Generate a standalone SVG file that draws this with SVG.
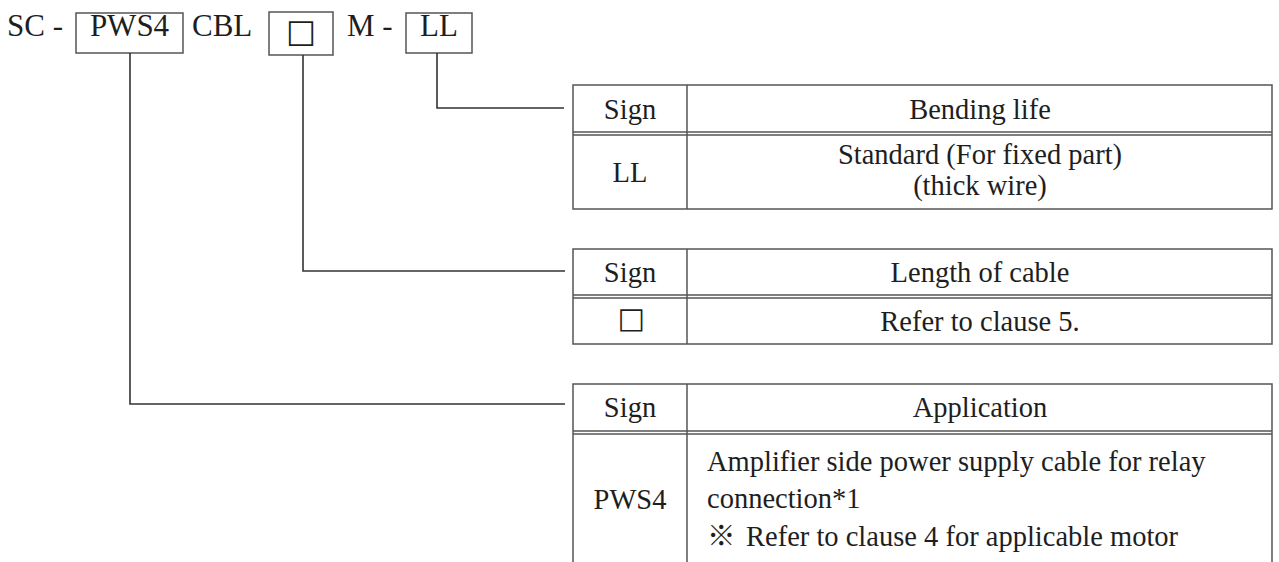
<svg xmlns="http://www.w3.org/2000/svg" width="1279" height="562" viewBox="0 0 1279 562">
<style>
.t{font-family:"Liberation Serif","Times New Roman",serif;fill:#1e1e1e}
.h{font-size:31px}
.c{font-size:28.5px}
.m{text-anchor:middle}
.box{fill:none;stroke:#555;stroke-width:1.5}
.ln{fill:none;stroke:#333;stroke-width:1.6}
.sq{font-family:"DejaVu Sans",sans-serif;fill:#1e1e1e}
</style>
<rect width="1279" height="562" fill="#fff"/>
<g id="code">
<text class="t h" x="7" y="36">SC -</text>
<rect class="box" x="76" y="13" width="107" height="40"/>
<text class="t h m" x="129.5" y="36">PWS4</text>
<text class="t h" x="192" y="36">CBL</text>
<rect class="box" x="269" y="12" width="64" height="43"/>
<text class="sq m" x="301" y="42" font-size="32">□</text>
<text class="t h" x="347" y="36">M -</text>
<rect class="box" x="406" y="13" width="66" height="40"/>
<text class="t h m" x="439" y="36">LL</text>
</g>
<g id="connectors">
<polyline class="ln" points="437,53 437,108 564,108"/>
<polyline class="ln" points="303,55 303,271 565,271"/>
<polyline class="ln" points="130,53 130,404 565,404"/>
</g>
<g id="table-bending">
<rect class="box" x="573" y="85" width="699" height="124"/>
<line class="box" x1="687" y1="85" x2="687" y2="209"/>
<line class="box" x1="573" y1="132" x2="1272" y2="132"/>
<line class="box" x1="573" y1="135" x2="1272" y2="135"/>
<text class="t c m" x="630" y="119">Sign</text>
<text class="t c m" x="980" y="119">Bending life</text>
<text class="t c m" x="630" y="182">LL</text>
<text class="t c m" x="980" y="164">Standard (For fixed part)</text>
<text class="t c m" x="980" y="195">(thick wire)</text>
</g>
<g id="table-length">
<rect class="box" x="573" y="249" width="699" height="95"/>
<line class="box" x1="687" y1="249" x2="687" y2="344"/>
<line class="box" x1="573" y1="295" x2="1272" y2="295"/>
<line class="box" x1="573" y1="298" x2="1272" y2="298"/>
<text class="t c m" x="630" y="282">Sign</text>
<text class="t c m" x="980" y="282">Length of cable</text>
<text class="sq m" x="631.5" y="328" font-size="29">□</text>
<text class="t c m" x="980" y="331">Refer to clause 5.</text>
</g>
<g id="table-application">
<path class="box" d="M573,562 V384 H1272 V562"/>
<line class="box" x1="687" y1="384" x2="687" y2="562"/>
<line class="box" x1="573" y1="431" x2="1272" y2="431"/>
<line class="box" x1="573" y1="434" x2="1272" y2="434"/>
<text class="t c m" x="630" y="417">Sign</text>
<text class="t c m" x="980" y="417">Application</text>
<text class="t c m" x="630" y="509">PWS4</text>
<text class="t c" x="707" y="471">Amplifier side power supply cable for relay</text>
<text class="t c" x="707" y="508">connection*1</text>
<text class="t c" x="707" y="546"><tspan font-family="'Noto Sans CJK JP',sans-serif">※</tspan><tspan x="746">Refer to clause 4 for applicable motor</tspan></text>
</g>
</svg>
